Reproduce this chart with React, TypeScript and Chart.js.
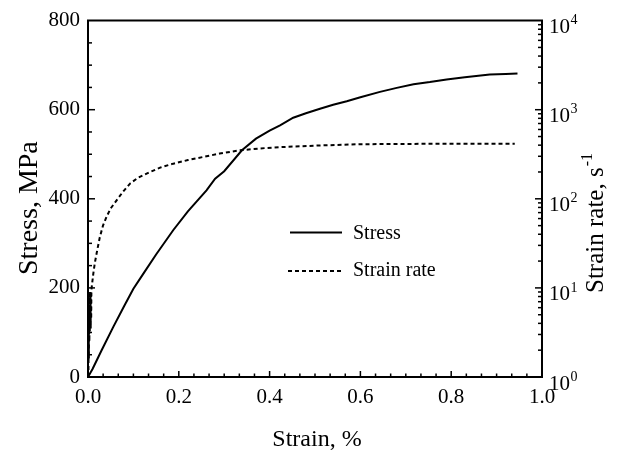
import React, { useEffect, useRef } from "react";
import { Chart, registerables } from "chart.js";
Chart.register(...registerables);

const FONT = '"Liberation Serif", "Times New Roman", Times, serif';

// Stress curve (strain %, stress MPa)
const stressStrain = [0, 0.01, 0.03, 0.056, 0.08, 0.1, 0.122, 0.15, 0.188, 0.22, 0.261, 0.28, 0.3, 0.339, 0.37, 0.4, 0.423, 0.452, 0.48, 0.511, 0.54, 0.57, 0.6, 0.643, 0.68, 0.717, 0.753, 0.79, 0.83, 0.885, 0.92, 0.946];
const stressValues = [0, 18, 60, 113, 160, 198, 232, 275, 330, 372, 419, 445, 462, 509, 535, 553, 565, 582, 592, 602, 611, 619, 628, 640, 649, 657, 662, 668, 673, 679, 680, 681];

// Strain-rate curve (strain %, strain rate 1/s)
const rateStrain = [0.001, 0.0015, 0.002, 0.0025, 0.003, 0.0035, 0.004, 0.0045, 0.005, 0.0055, 0.006, 0.0065, 0.007, 0.0075, 0.008, 0.0117, 0.015, 0.02, 0.026, 0.033, 0.041, 0.05, 0.063, 0.077, 0.0925, 0.11, 0.137, 0.16, 0.188, 0.22, 0.254, 0.29, 0.335, 0.38, 0.423, 0.5, 0.6, 0.7, 0.8, 0.94];
const rateValues = [1.2, 3, 1.6, 6, 2.5, 8.5, 3.2, 9, 4, 8.8, 3.5, 9.2, 4.5, 9.5, 10, 14.5, 19, 26, 37, 50, 63, 78, 96, 120, 148, 172, 200, 225, 248, 272, 295, 322, 350, 368, 380, 395, 410, 413, 415, 415];

const xTickStep = 0.2;
const xMinorStep = 1 / 30;
const stressTickStep = 200;
const stressMinorStep = 50;
const rateExponents = [0, 1, 2, 3, 4];
const legendLabels = ["Stress", "Strain rate"];
const xTitle = "Strain, %";
const yTitle = "Stress, MPa";
const y2Title = "Strain rate, s";
const y2TitleSup = "-1";

export default function App() {
  const ref = useRef<HTMLCanvasElement>(null);

  useEffect(() => {
    const canvas = ref.current;
    if (!canvas) return;

    const decor = {
      id: "decor",
      afterDraw(chart: any) {
        const c = chart.ctx as CanvasRenderingContext2D;
        const { left, right, top, bottom } = chart.chartArea;
        const xs = chart.scales.x;
        const ys = chart.scales.y;
        const y2 = chart.scales.y2;
        c.save();
        c.strokeStyle = "#000";
        c.fillStyle = "#000";
        c.lineCap = "butt";
        // top frame line
        c.lineWidth = 2;
        c.beginPath();
        c.moveTo(left - 1, top);
        c.lineTo(right + 1, top);
        c.stroke();

        const seg = (x1: number, y1: number, x2: number, y2p: number) => {
          c.beginPath();
          c.moveTo(x1, y1);
          c.lineTo(x2, y2p);
          c.stroke();
        };
        c.lineWidth = 1.5;
        // x ticks (inward)
        const nx = Math.round(1 / xMinorStep);
        for (let i = 1; i < nx; i++) {
          const v = i * xMinorStep;
          const px = xs.getPixelForValue(v);
          const major = Math.abs(v / xTickStep - Math.round(v / xTickStep)) < 1e-6;
          seg(px, bottom, px, bottom - (major ? 6 : 3.5));
        }
        // left y ticks (inward)
        for (let v = stressMinorStep; v < 800; v += stressMinorStep) {
          const py = ys.getPixelForValue(v);
          seg(left, py, left + (v % stressTickStep === 0 ? 7 : 4), py);
        }
        // right log ticks (inward)
        for (let e = 0; e < 4; e++) {
          for (let m = 1; m <= 9; m++) {
            const v = m * Math.pow(10, e);
            if (v === 1) continue;
            const py = y2.getPixelForValue(v);
            seg(right, py, right - (m === 1 ? 7 : 4), py);
          }
        }
        // right tick labels with superscripts
        c.textAlign = "left";
        c.textBaseline = "middle";
        for (const e of rateExponents) {
          const py = y2.getPixelForValue(Math.pow(10, e));
          c.font = `21px ${FONT}`;
          c.fillText("10", right + 7, py + 7);
          const w = c.measureText("10").width;
          c.font = `14px ${FONT}`;
          c.fillText(String(e), right + 7 + w + 0.5, py);
        }
        // axis titles
        c.textBaseline = "alphabetic";
        c.font = `28px ${FONT}`;
        c.save();
        c.translate(37, 275);
        c.rotate(-Math.PI / 2);
        c.textAlign = "left";
        c.fillText(yTitle, 0, 0);
        c.restore();

        c.save();
        c.translate(603, 293);
        c.rotate(-Math.PI / 2);
        c.textAlign = "left";
        c.font = `25px ${FONT}`;
        c.fillText(y2Title, 0, 0);
        const tw = c.measureText(y2Title).width;
        c.font = `16px ${FONT}`;
        c.fillText(y2TitleSup, tw + 1, -11);
        c.restore();

        c.font = `24px ${FONT}`;
        c.textAlign = "center";
        c.fillText(xTitle, (left + right) / 2 + 2, 446);

        // legend
        c.lineWidth = 2;
        seg(290, 232.5, 342, 232.5);
        c.setLineDash([4, 3]);
        c.lineWidth = 1.8;
        seg(288, 271, 342, 271);
        c.setLineDash([]);
        c.font = `20px ${FONT}`;
        c.textAlign = "left";
        c.textBaseline = "middle";
        c.fillText(legendLabels[0], 353, 234);
        c.fillText(legendLabels[1], 353, 271);
        c.restore();
      },
    };

    const chart = new Chart(canvas, {
      type: "line",
      data: {
        datasets: [
          {
            label: legendLabels[0],
            data: stressStrain.map((s, i) => ({ x: s, y: stressValues[i] })),
            yAxisID: "y",
            borderColor: "#000",
            borderWidth: 2,
            pointRadius: 0,
            tension: 0,
            fill: false,
          },
          {
            label: legendLabels[1],
            data: rateStrain.map((s, i) => ({ x: s, y: rateValues[i] })),
            yAxisID: "y2",
            borderColor: "#000",
            borderWidth: 2,
            borderDash: [4, 3],
            pointRadius: 0,
            tension: 0,
            fill: false,
          },
        ],
      },
      options: {
        responsive: false,
        animation: false,
        layout: { padding: { top: 20, left: 0, right: 0, bottom: 0 } },
        plugins: { legend: { display: false }, tooltip: { enabled: false }, title: { display: false } },
        scales: {
          x: {
            type: "linear",
            min: 0,
            max: 1,
            afterFit: (s: any) => {
              s.height = 81;
            },
            grid: { display: false, drawTicks: false },
            border: { display: true, color: "#000", width: 2 },
            ticks: {
              stepSize: xTickStep,
              autoSkip: false,
              maxRotation: 0,
              padding: 8,
              color: "#000",
              font: { family: FONT, size: 21 },
              callback: (v: any) => Number(v).toFixed(1),
            },
          },
          y: {
            type: "linear",
            position: "left",
            min: 0,
            max: 800,
            afterFit: (s: any) => {
              s.width = 88;
            },
            grid: { display: false, drawTicks: false },
            border: { display: true, color: "#000", width: 2 },
            ticks: {
              stepSize: stressTickStep,
              padding: 8,
              color: "#000",
              font: { family: FONT, size: 21 },
            },
          },
          y2: {
            type: "logarithmic",
            position: "right",
            min: 1,
            max: 10000,
            afterFit: (s: any) => {
              s.width = 78;
            },
            grid: { display: false, drawTicks: false },
            border: { display: true, color: "#000", width: 2 },
            ticks: { display: false },
          },
        },
      },
      plugins: [decor],
    });

    return () => chart.destroy();
  }, []);

  return (
    <div style={{ position: "fixed", left: 0, top: 0, width: 620, height: 458, background: "#fff" }}>
      <canvas ref={ref} width={620} height={458} style={{ display: "block" }} />
    </div>
  );
}
